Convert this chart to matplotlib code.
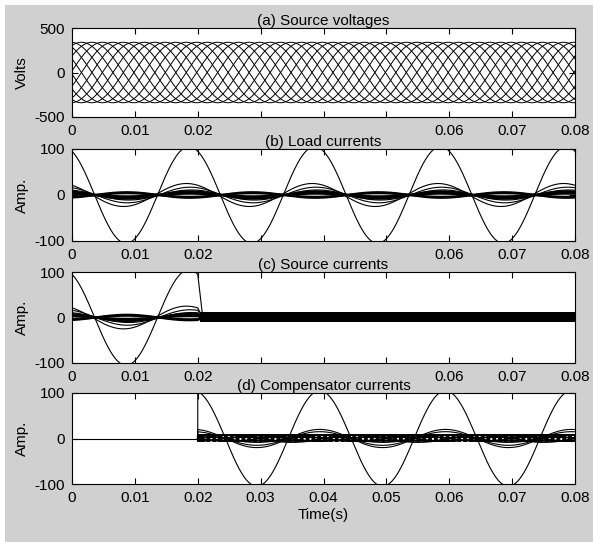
import numpy as np
import matplotlib.pyplot as plt
from matplotlib.patches import Rectangle

plt.rcParams['font.family'] = ['Liberation Sans', 'DejaVu Sans']
plt.rcParams['font.size'] = 11
plt.rcParams['axes.unicode_minus'] = False

f = 50.0
t_on = 0.02  # compensator switched in here

# (a) 12-phase source voltages
v_peak = 340
v_phase_deg = [3, 33, 63, 93, 123, 153, 183, 213, 243, 273, 303, 333]

# (b) load currents: crest value and time of first crest
load_amp = [105, 25, 17, 11, 8, 5, 3, -4, -6]
load_crest_t = [0.0186, 0.0182, 0.0188, 0.0190, 0.0187, 0.0187, 0.0187, 0.0187, 0.0187]
load_lw = [0.8, 0.8, 0.8, 0.8, 1.6, 1.6, 1.6, 1.6, 1.6]

# (c) source currents: switching band after compensation
src_settle_t = 0.0208
src_band = [-10, 13]

# (d) compensator currents after t_on
comp_amp = [105, 20, 15, 8, 6, -6, -8]
comp_crest_t = [0.0194, 0.0194, 0.0194, 0.0194, 0.0150, 0.0194, 0.0150]
comp_lw = [0.8, 0.8, 0.8, 1.2, 1.2, 1.2, 1.2]
comp_band = [-8, 10]
comp_band_gaps = [6, 2, -2, -5]

xticks = [0, 0.01, 0.02, 0.03, 0.04, 0.05, 0.06, 0.07, 0.08]
xlabels = ['0', '0.01', '0.02', '0.03', '0.04', '0.05', '0.06', '0.07', '0.08']
hidden = ['0.03', '0.04', '0.05']

titles = ['(a) Source voltages', '(b) Load currents', '(c) Source currents', '(d) Compensator currents']
ylabels = ['Volts', 'Amp.', 'Amp.', 'Amp.']

W, H = 593, 542
# axes boxes in pixels: left, top, right, bottom
boxes = [(72, 28, 575, 117), (72, 149, 575, 241), (72, 272, 575, 363), (72, 393, 575, 484)]

t = np.linspace(0, 0.08, 4001)
w = 2 * np.pi * f

fig = plt.figure(figsize=(W / 100, H / 100), dpi=100, facecolor='white')
fig.patches.append(Rectangle((5 / W, 0), 1, 1 - 5 / H, transform=fig.transFigure,
                             facecolor='#d0d0d0', edgecolor='none', zorder=-10))

axes = []
for i, (l, tp, r, b) in enumerate(boxes):
    ax = fig.add_axes([l / W, 1 - b / H, (r - l) / W, (b - tp) / H])
    ax.set_facecolor('white')
    axes.append(ax)

# (a)
ax = axes[0]
for ph in v_phase_deg:
    ax.plot(t, v_peak * np.sin(w * t + np.deg2rad(ph)), color='k', lw=0.7)
ax.set_ylim(-500, 500)
ax.set_yticks([-500, 0, 500])

# (b)
ax = axes[1]
for a, tc, lw in zip(load_amp, load_crest_t, load_lw):
    ax.plot(t, a * np.cos(w * (t - tc)), color='k', lw=lw)

# (c)
ax = axes[2]
pre = t <= t_on
for a, tc, lw in zip(load_amp, load_crest_t, load_lw):
    y = a * np.cos(w * (t[pre] - tc))
    ax.plot(np.r_[t[pre], src_settle_t], np.r_[y, 0], color='k', lw=lw)
ax.fill_between([t_on + 0.0003, 0.08], src_band[0], src_band[1], color='k', lw=0)

# (d)
ax = axes[3]
post = t >= t_on
ax.plot([0, t_on], [0, 0], color='k', lw=0.8)
ax.fill_between([t_on, 0.08], comp_band[0], comp_band[1], color='k', lw=0)
for g in comp_band_gaps:
    ax.plot([t_on + 0.001, 0.08], [g, g], color='white', lw=0.7, dashes=(2, 4))
for a, tc, lw in zip(comp_amp, comp_crest_t, comp_lw):
    y = a * np.cos(w * (t[post] - tc))
    ax.plot(np.r_[t_on, t[post]], np.r_[0, y], color='k', lw=lw)

for i, ax in enumerate(axes):
    ax.set_xlim(0, 0.08)
    if i > 0:
        ax.set_ylim(-100, 100)
        ax.set_yticks([-100, 0, 100])
    ax.set_xticks(xticks)
    if i < 3:
        ax.set_xticklabels(['' if s in hidden else s for s in xlabels])
    else:
        ax.set_xticklabels(xlabels)
    ax.tick_params(direction='in', top=True, right=True, length=4, width=0.8,
                   labelsize=11, pad=5)
    for sp in ax.spines.values():
        sp.set_linewidth(0.8)
    ax.set_title(titles[i], fontsize=11, pad=2)
    ax.set_ylabel(ylabels[i], fontsize=11, labelpad=4)

axes[3].set_xlabel('Time(s)', fontsize=11, labelpad=2)

fig.savefig('out.png', dpi=100, facecolor=fig.get_facecolor())
